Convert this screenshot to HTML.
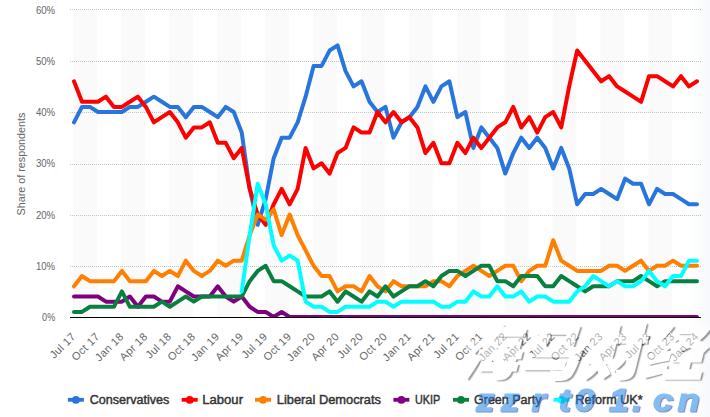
<!DOCTYPE html>
<html lang="en"><head><meta charset="utf-8"><title>Voting intention</title>
<style>
html,body{margin:0;padding:0;background:#fff}
body{width:710px;height:417px;overflow:hidden;position:relative;font-family:"Liberation Sans","Noto Sans CJK SC",sans-serif}
svg{position:absolute;left:0;top:0;display:block}
svg text{font-family:"Liberation Sans","Noto Sans CJK SC",sans-serif}
.ax{font-size:10px;fill:#666}
.lg{font-size:12.7px;fill:#333;stroke:#333;stroke-width:.45px;paint-order:stroke}
.wm{position:absolute;left:457px;top:308px;letter-spacing:1px;font-family:"Noto Sans CJK SC","WenQuanYi Zen Hei",sans-serif;font-weight:900;font-style:italic;font-size:60.5px;line-height:80px;color:#fff;-webkit-text-stroke:2.2px #fff;opacity:.5;white-space:nowrap;text-shadow:2.4px 2.4px 1.3px rgba(0,0,0,.8)}
.wm2{font-family:"Liberation Sans",sans-serif;font-weight:bold;font-style:italic;font-size:32px;fill:#1f86e6;stroke:#1f86e6;stroke-width:1.2px;opacity:.55;filter:drop-shadow(1.1px 1.4px 0.4px rgb(40,50,140))}
</style></head><body>
<svg width="710" height="417" viewBox="0 0 710 417">
<rect width="710" height="417" fill="#fff"/>
<rect x="73.30" y="10" width="23.96" height="307" fill="#fafafa"/>
<rect x="121.22" y="10" width="23.96" height="307" fill="#fafafa"/>
<rect x="169.14" y="10" width="23.96" height="307" fill="#fafafa"/>
<rect x="217.07" y="10" width="23.96" height="307" fill="#fafafa"/>
<rect x="264.99" y="10" width="23.96" height="307" fill="#fafafa"/>
<rect x="312.91" y="10" width="23.96" height="307" fill="#fafafa"/>
<rect x="360.83" y="10" width="23.96" height="307" fill="#fafafa"/>
<rect x="408.75" y="10" width="23.96" height="307" fill="#fafafa"/>
<rect x="456.68" y="10" width="23.96" height="307" fill="#fafafa"/>
<rect x="504.60" y="10" width="23.96" height="307" fill="#fafafa"/>
<rect x="552.52" y="10" width="23.96" height="307" fill="#fafafa"/>
<rect x="600.44" y="10" width="23.96" height="307" fill="#fafafa"/>
<rect x="648.36" y="10" width="23.96" height="307" fill="#fafafa"/>
<defs><linearGradient id="rg" x1="0" x2="1" y1="0" y2="0"><stop offset="0" stop-color="#f6f8fb" stop-opacity="0"/><stop offset="1" stop-color="#f6f8fb" stop-opacity="1"/></linearGradient></defs><rect x="690" y="0" width="20" height="417" fill="url(#rg)"/>
<line x1="70" x2="701" y1="266.50" y2="266.50" stroke="#c4c4c4" stroke-width="1" stroke-dasharray="1 1" shape-rendering="crispEdges"/>
<line x1="70" x2="701" y1="215.50" y2="215.50" stroke="#c4c4c4" stroke-width="1" stroke-dasharray="1 1" shape-rendering="crispEdges"/>
<line x1="70" x2="701" y1="164.50" y2="164.50" stroke="#c4c4c4" stroke-width="1" stroke-dasharray="1 1" shape-rendering="crispEdges"/>
<line x1="70" x2="701" y1="112.50" y2="112.50" stroke="#c4c4c4" stroke-width="1" stroke-dasharray="1 1" shape-rendering="crispEdges"/>
<line x1="70" x2="701" y1="61.50" y2="61.50" stroke="#c4c4c4" stroke-width="1" stroke-dasharray="1 1" shape-rendering="crispEdges"/>
<line x1="70" x2="701" y1="9.50" y2="9.50" stroke="#c4c4c4" stroke-width="1" stroke-dasharray="1 1" shape-rendering="crispEdges"/>
<text class="ax" x="55.2" y="321.00" text-anchor="end" style="font-size:10.2px" textLength="13.1" lengthAdjust="spacingAndGlyphs">0%</text>
<text class="ax" x="55.2" y="269.80" text-anchor="end" style="font-size:10.2px" textLength="19.3" lengthAdjust="spacingAndGlyphs">10%</text>
<text class="ax" x="55.2" y="218.60" text-anchor="end" style="font-size:10.2px" textLength="19.3" lengthAdjust="spacingAndGlyphs">20%</text>
<text class="ax" x="55.2" y="167.40" text-anchor="end" style="font-size:10.2px" textLength="19.3" lengthAdjust="spacingAndGlyphs">30%</text>
<text class="ax" x="55.2" y="116.20" text-anchor="end" style="font-size:10.2px" textLength="19.3" lengthAdjust="spacingAndGlyphs">40%</text>
<text class="ax" x="55.2" y="65.00" text-anchor="end" style="font-size:10.2px" textLength="19.3" lengthAdjust="spacingAndGlyphs">50%</text>
<text class="ax" x="55.2" y="13.80" text-anchor="end" style="font-size:10.2px" textLength="19.3" lengthAdjust="spacingAndGlyphs">60%</text>
<text class="ax" transform="translate(25 164) rotate(-90)" text-anchor="middle" style="font-size:10.8px" textLength="103">Share of respondents</text>
<defs><clipPath id="pc"><rect x="70" y="0" width="631" height="317"/></clipPath></defs><g clip-path="url(#pc)">
<path d="M74.00 122.30 L81.99 106.93 L89.97 106.93 L97.96 112.05 L105.95 112.05 L113.94 112.05 L121.92 112.05 L129.91 106.93 L137.90 106.93 L145.88 101.80 L153.87 96.68 L161.86 101.80 L169.84 106.93 L177.83 106.93 L185.82 117.18 L193.81 106.93 L201.79 106.93 L209.78 112.05 L217.77 117.18 L225.75 106.93 L233.74 112.05 L241.73 132.55 L249.71 188.93 L257.70 224.80 L265.69 199.18 L273.68 158.18 L281.66 137.68 L289.65 137.68 L297.64 122.30 L305.62 96.68 L313.61 65.93 L321.60 65.93 L329.58 50.55 L337.57 45.43 L345.56 71.05 L353.55 86.43 L361.53 81.30 L369.52 101.80 L377.51 112.05 L385.49 106.93 L393.48 137.68 L401.47 122.30 L409.45 117.18 L417.44 106.93 L425.43 86.43 L433.42 101.80 L441.40 86.43 L449.39 81.30 L457.38 117.18 L465.36 112.05 L473.35 147.93 L481.34 127.43 L489.32 137.68 L497.31 147.93 L505.30 173.55 L513.29 153.05 L521.27 137.68 L529.26 147.93 L537.25 137.68 L545.23 147.93 L553.22 168.43 L561.21 147.93 L569.19 168.43 L577.18 204.30 L585.17 194.05 L593.15 194.05 L601.14 188.93 L609.13 194.05 L617.12 199.18 L625.10 178.68 L633.09 183.80 L641.08 183.80 L649.06 204.30 L657.05 188.93 L665.04 194.05 L673.02 194.05 L681.01 199.18 L689.00 204.30 L696.99 204.30" fill="none" stroke="#2875dd" stroke-width="4" stroke-linejoin="round" stroke-linecap="round"/>
<path d="M74.00 81.30 L81.99 101.80 L89.97 101.80 L97.96 101.80 L105.95 96.68 L113.94 106.93 L121.92 106.93 L129.91 101.80 L137.90 96.68 L145.88 106.93 L153.87 122.30 L161.86 117.18 L169.84 112.05 L177.83 122.30 L185.82 137.68 L193.81 127.43 L201.79 127.43 L209.78 122.30 L217.77 142.80 L225.75 142.80 L233.74 158.18 L241.73 147.93 L249.71 188.93 L257.70 214.55 L265.69 224.80 L273.68 204.30 L281.66 188.93 L289.65 204.30 L297.64 188.93 L305.62 147.93 L313.61 168.43 L321.60 163.30 L329.58 173.55 L337.57 153.05 L345.56 147.93 L353.55 127.43 L361.53 132.55 L369.52 132.55 L377.51 112.05 L385.49 122.30 L393.48 112.05 L401.47 122.30 L409.45 117.18 L417.44 127.43 L425.43 153.05 L433.42 142.80 L441.40 163.30 L449.39 163.30 L457.38 142.80 L465.36 153.05 L473.35 137.68 L481.34 147.93 L489.32 137.68 L497.31 127.43 L505.30 122.30 L513.29 106.93 L521.27 127.43 L529.26 117.18 L537.25 132.55 L545.23 117.18 L553.22 112.05 L561.21 127.43 L569.19 86.43 L577.18 50.55 L585.17 60.80 L593.15 71.05 L601.14 81.30 L609.13 76.18 L617.12 86.43 L625.10 91.55 L633.09 96.68 L641.08 101.80 L649.06 76.18 L657.05 76.18 L665.04 81.30 L673.02 86.43 L681.01 76.18 L689.00 86.43 L696.99 81.30" fill="none" stroke="#ff0000" stroke-width="4" stroke-linejoin="round" stroke-linecap="round"/>
<path d="M74.00 286.30 L81.99 276.05 L89.97 281.18 L97.96 281.18 L105.95 281.18 L113.94 281.18 L121.92 270.93 L129.91 281.18 L137.90 281.18 L145.88 281.18 L153.87 270.93 L161.86 276.05 L169.84 270.93 L177.83 276.05 L185.82 260.68 L193.81 270.93 L201.79 276.05 L209.78 270.93 L217.77 260.68 L225.75 265.80 L233.74 260.68 L241.73 260.68 L249.71 235.05 L257.70 214.55 L265.69 219.68 L273.68 209.43 L281.66 235.05 L289.65 214.55 L297.64 235.05 L305.62 250.43 L313.61 265.80 L321.60 276.05 L329.58 276.05 L337.57 291.43 L345.56 286.30 L353.55 286.30 L361.53 291.43 L369.52 276.05 L377.51 286.30 L385.49 291.43 L393.48 281.18 L401.47 286.30 L409.45 286.30 L417.44 286.30 L425.43 286.30 L433.42 281.18 L441.40 281.18 L449.39 286.30 L457.38 276.05 L465.36 270.93 L473.35 265.80 L481.34 270.93 L489.32 276.05 L497.31 270.93 L505.30 265.80 L513.29 265.80 L521.27 281.18 L529.26 270.93 L537.25 265.80 L545.23 265.80 L553.22 240.18 L561.21 260.68 L569.19 265.80 L577.18 270.93 L585.17 270.93 L593.15 270.93 L601.14 270.93 L609.13 265.80 L617.12 265.80 L625.10 270.93 L633.09 265.80 L641.08 260.68 L649.06 270.93 L657.05 265.80 L665.04 265.80 L673.02 260.68 L681.01 265.80 L689.00 265.80 L696.99 265.80" fill="none" stroke="#ff8000" stroke-width="4" stroke-linejoin="round" stroke-linecap="round"/>
<path d="M74.00 296.55 L81.99 296.55 L89.97 296.55 L97.96 296.55 L105.95 301.68 L113.94 301.68 L121.92 301.68 L129.91 296.55 L137.90 306.80 L145.88 296.55 L153.87 296.55 L161.86 301.68 L169.84 301.68 L177.83 286.30 L185.82 291.43 L193.81 296.55 L201.79 296.55 L209.78 296.55 L217.77 286.30 L225.75 296.55 L233.74 301.68 L241.73 296.55 L249.71 306.80 L257.70 311.93 L265.69 311.93 L273.68 317.05 L281.66 311.93 L289.65 317.05 L297.64 317.05 L305.62 317.05 L313.61 317.05 L321.60 317.05 L329.58 317.05 L337.57 317.05 L345.56 317.05 L353.55 317.05 L361.53 317.05 L369.52 317.05 L377.51 317.05 L385.49 317.05 L393.48 317.05 L401.47 317.05 L409.45 317.05 L417.44 317.05 L425.43 317.05 L433.42 317.05 L441.40 317.05 L449.39 317.05 L457.38 317.05 L465.36 317.05 L473.35 317.05 L481.34 317.05 L489.32 317.05 L497.31 317.05 L505.30 317.05 L513.29 317.05 L521.27 317.05 L529.26 317.05 L537.25 317.05 L545.23 317.05 L553.22 317.05 L561.21 317.05 L569.19 317.05 L577.18 317.05 L585.17 317.05 L593.15 317.05 L601.14 317.05 L609.13 317.05 L617.12 317.05 L625.10 317.05 L633.09 317.05 L641.08 317.05 L649.06 317.05 L657.05 317.05 L665.04 317.05 L673.02 317.05 L681.01 317.05 L689.00 317.05 L696.99 317.05" fill="none" stroke="#800080" stroke-width="4" stroke-linejoin="round" stroke-linecap="round"/>
<path d="M74.00 311.93 L81.99 311.93 L89.97 306.80 L97.96 306.80 L105.95 306.80 L113.94 306.80 L121.92 291.43 L129.91 306.80 L137.90 306.80 L145.88 306.80 L153.87 306.80 L161.86 301.68 L169.84 306.80 L177.83 301.68 L185.82 296.55 L193.81 301.68 L201.79 296.55 L209.78 296.55 L217.77 296.55 L225.75 296.55 L233.74 296.55 L241.73 296.55 L249.71 281.18 L257.70 270.93 L265.69 265.80 L273.68 281.18 L281.66 281.18 L289.65 286.30 L297.64 291.43 L305.62 296.55 L313.61 296.55 L321.60 296.55 L329.58 291.43 L337.57 301.68 L345.56 291.43 L353.55 296.55 L361.53 301.68 L369.52 291.43 L377.51 296.55 L385.49 286.30 L393.48 296.55 L401.47 291.43 L409.45 286.30 L417.44 286.30 L425.43 281.18 L433.42 286.30 L441.40 276.05 L449.39 270.93 L457.38 270.93 L465.36 276.05 L473.35 270.93 L481.34 265.80 L489.32 265.80 L497.31 281.18 L505.30 281.18 L513.29 286.30 L521.27 276.05 L529.26 276.05 L537.25 276.05 L545.23 286.30 L553.22 286.30 L561.21 276.05 L569.19 281.18 L577.18 286.30 L585.17 291.43 L593.15 286.30 L601.14 286.30 L609.13 286.30 L617.12 281.18 L625.10 281.18 L633.09 281.18 L641.08 276.05 L649.06 281.18 L657.05 286.30 L665.04 281.18 L673.02 281.18 L681.01 281.18 L689.00 281.18 L696.99 281.18" fill="none" stroke="#0a8040" stroke-width="4" stroke-linejoin="round" stroke-linecap="round"/>
<path d="M241.73 291.43 L249.71 235.05 L257.70 183.80 L265.69 204.30 L273.68 245.30 L281.66 260.68 L289.65 255.55 L297.64 260.68 L305.62 301.68 L313.61 306.80 L321.60 306.80 L329.58 311.93 L337.57 311.93 L345.56 306.80 L353.55 306.80 L361.53 306.80 L369.52 306.80 L377.51 301.68 L385.49 301.68 L393.48 306.80 L401.47 301.68 L409.45 301.68 L417.44 301.68 L425.43 301.68 L433.42 301.68 L441.40 306.80 L449.39 306.80 L457.38 301.68 L465.36 301.68 L473.35 291.43 L481.34 296.55 L489.32 296.55 L497.31 286.30 L505.30 296.55 L513.29 296.55 L521.27 291.43 L529.26 301.68 L537.25 296.55 L545.23 296.55 L553.22 301.68 L561.21 301.68 L569.19 301.68 L577.18 291.43 L585.17 286.30 L593.15 276.05 L601.14 281.18 L609.13 286.30 L617.12 281.18 L625.10 286.30 L633.09 286.30 L641.08 281.18 L649.06 270.93 L657.05 281.18 L665.04 286.30 L673.02 276.05 L681.01 276.05 L689.00 260.68 L696.99 260.68" fill="none" stroke="#00ffff" stroke-width="4" stroke-linejoin="round" stroke-linecap="round"/>
</g>
<line x1="70" x2="701" y1="317.5" y2="317.5" stroke="#000" stroke-width="1" shape-rendering="crispEdges"/>
<text class="ax" transform="translate(76.30 337.3) rotate(-45)" text-anchor="end" style="font-size:11px;letter-spacing:.3px">Jul 17</text>
<text class="ax" transform="translate(100.26 337.3) rotate(-45)" text-anchor="end" style="font-size:11px;letter-spacing:.3px">Oct 17</text>
<text class="ax" transform="translate(124.22 337.3) rotate(-45)" text-anchor="end" style="font-size:11px;letter-spacing:.3px">Jan 18</text>
<text class="ax" transform="translate(148.18 337.3) rotate(-45)" text-anchor="end" style="font-size:11px;letter-spacing:.3px">Apr 18</text>
<text class="ax" transform="translate(172.14 337.3) rotate(-45)" text-anchor="end" style="font-size:11px;letter-spacing:.3px">Jul 18</text>
<text class="ax" transform="translate(196.11 337.3) rotate(-45)" text-anchor="end" style="font-size:11px;letter-spacing:.3px">Oct 18</text>
<text class="ax" transform="translate(220.07 337.3) rotate(-45)" text-anchor="end" style="font-size:11px;letter-spacing:.3px">Jan 19</text>
<text class="ax" transform="translate(244.03 337.3) rotate(-45)" text-anchor="end" style="font-size:11px;letter-spacing:.3px">Apr 19</text>
<text class="ax" transform="translate(267.99 337.3) rotate(-45)" text-anchor="end" style="font-size:11px;letter-spacing:.3px">Jul 19</text>
<text class="ax" transform="translate(291.95 337.3) rotate(-45)" text-anchor="end" style="font-size:11px;letter-spacing:.3px">Oct 19</text>
<text class="ax" transform="translate(315.91 337.3) rotate(-45)" text-anchor="end" style="font-size:11px;letter-spacing:.3px">Jan 20</text>
<text class="ax" transform="translate(339.87 337.3) rotate(-45)" text-anchor="end" style="font-size:11px;letter-spacing:.3px">Apr 20</text>
<text class="ax" transform="translate(363.83 337.3) rotate(-45)" text-anchor="end" style="font-size:11px;letter-spacing:.3px">Jul 20</text>
<text class="ax" transform="translate(387.79 337.3) rotate(-45)" text-anchor="end" style="font-size:11px;letter-spacing:.3px">Oct 20</text>
<text class="ax" transform="translate(411.75 337.3) rotate(-45)" text-anchor="end" style="font-size:11px;letter-spacing:.3px">Jan 21</text>
<text class="ax" transform="translate(435.72 337.3) rotate(-45)" text-anchor="end" style="font-size:11px;letter-spacing:.3px">Apr 21</text>
<text class="ax" transform="translate(459.68 337.3) rotate(-45)" text-anchor="end" style="font-size:11px;letter-spacing:.3px">Jul 21</text>
<text class="ax" transform="translate(483.64 337.3) rotate(-45)" text-anchor="end" style="font-size:11px;letter-spacing:.3px">Oct 21</text>
<text class="ax" transform="translate(507.60 337.3) rotate(-45)" text-anchor="end" style="font-size:11px;letter-spacing:.3px">Jan 22</text>
<text class="ax" transform="translate(531.56 337.3) rotate(-45)" text-anchor="end" style="font-size:11px;letter-spacing:.3px">Apr 22</text>
<text class="ax" transform="translate(555.52 337.3) rotate(-45)" text-anchor="end" style="font-size:11px;letter-spacing:.3px">Jul 22</text>
<text class="ax" transform="translate(579.48 337.3) rotate(-45)" text-anchor="end" style="font-size:11px;letter-spacing:.3px">Oct 22</text>
<text class="ax" transform="translate(603.44 337.3) rotate(-45)" text-anchor="end" style="font-size:11px;letter-spacing:.3px">Jan 23</text>
<text class="ax" transform="translate(627.40 337.3) rotate(-45)" text-anchor="end" style="font-size:11px;letter-spacing:.3px">Apr 23</text>
<text class="ax" transform="translate(651.36 337.3) rotate(-45)" text-anchor="end" style="font-size:11px;letter-spacing:.3px">Jul 23</text>
<text class="ax" transform="translate(675.32 337.3) rotate(-45)" text-anchor="end" style="font-size:11px;letter-spacing:.3px">Oct 23</text>
<text class="ax" transform="translate(699.29 337.3) rotate(-45)" text-anchor="end" style="font-size:11px;letter-spacing:.3px">Jan 24</text>
<rect x="67.9" y="397.9" width="16" height="3.8" fill="#2875dd"/><circle cx="75.9" cy="399.9" r="3.85" fill="#2875dd"/>
<text class="lg" x="89.8" y="403.9" textLength="79.5" lengthAdjust="spacingAndGlyphs">Conservatives</text>
<rect x="181.7" y="397.9" width="16" height="3.8" fill="#ff0000"/><circle cx="189.7" cy="399.9" r="3.85" fill="#ff0000"/>
<text class="lg" x="202.3" y="403.9" textLength="40.7" lengthAdjust="spacingAndGlyphs">Labour</text>
<rect x="255.0" y="397.9" width="16" height="3.8" fill="#ff8000"/><circle cx="263.0" cy="399.9" r="3.85" fill="#ff8000"/>
<text class="lg" x="276.8" y="403.9" textLength="104.2" lengthAdjust="spacingAndGlyphs">Liberal Democrats</text>
<rect x="393.4" y="397.9" width="16" height="3.8" fill="#800080"/><circle cx="401.4" cy="399.9" r="3.85" fill="#800080"/>
<text class="lg" x="415" y="403.9" textLength="25.2" lengthAdjust="spacingAndGlyphs">UKIP</text>
<rect x="453.0" y="397.9" width="16" height="3.8" fill="#0a8040"/><circle cx="461.0" cy="399.9" r="3.85" fill="#0a8040"/>
<text class="lg" x="474" y="403.9" textLength="67.4" lengthAdjust="spacingAndGlyphs">Green Party</text>
<rect x="553.6" y="397.9" width="16" height="3.8" fill="#00ffff"/><circle cx="561.6" cy="399.9" r="3.85" fill="#00ffff"/>
<text class="lg" x="575.3" y="403.9" textLength="67.4" lengthAdjust="spacingAndGlyphs">Reform UK*</text>
</svg>
<div class="wm">海马财经</div>
<svg width="710" height="417" viewBox="0 0 710 417"><text class="wm2" transform="scale(1.12 1)" y="411" x="425.00 447.32 474.55 498.66 512.95 543.57 564.29 583.04 604.91">zzrt01.cn</text></svg>
</body></html>
